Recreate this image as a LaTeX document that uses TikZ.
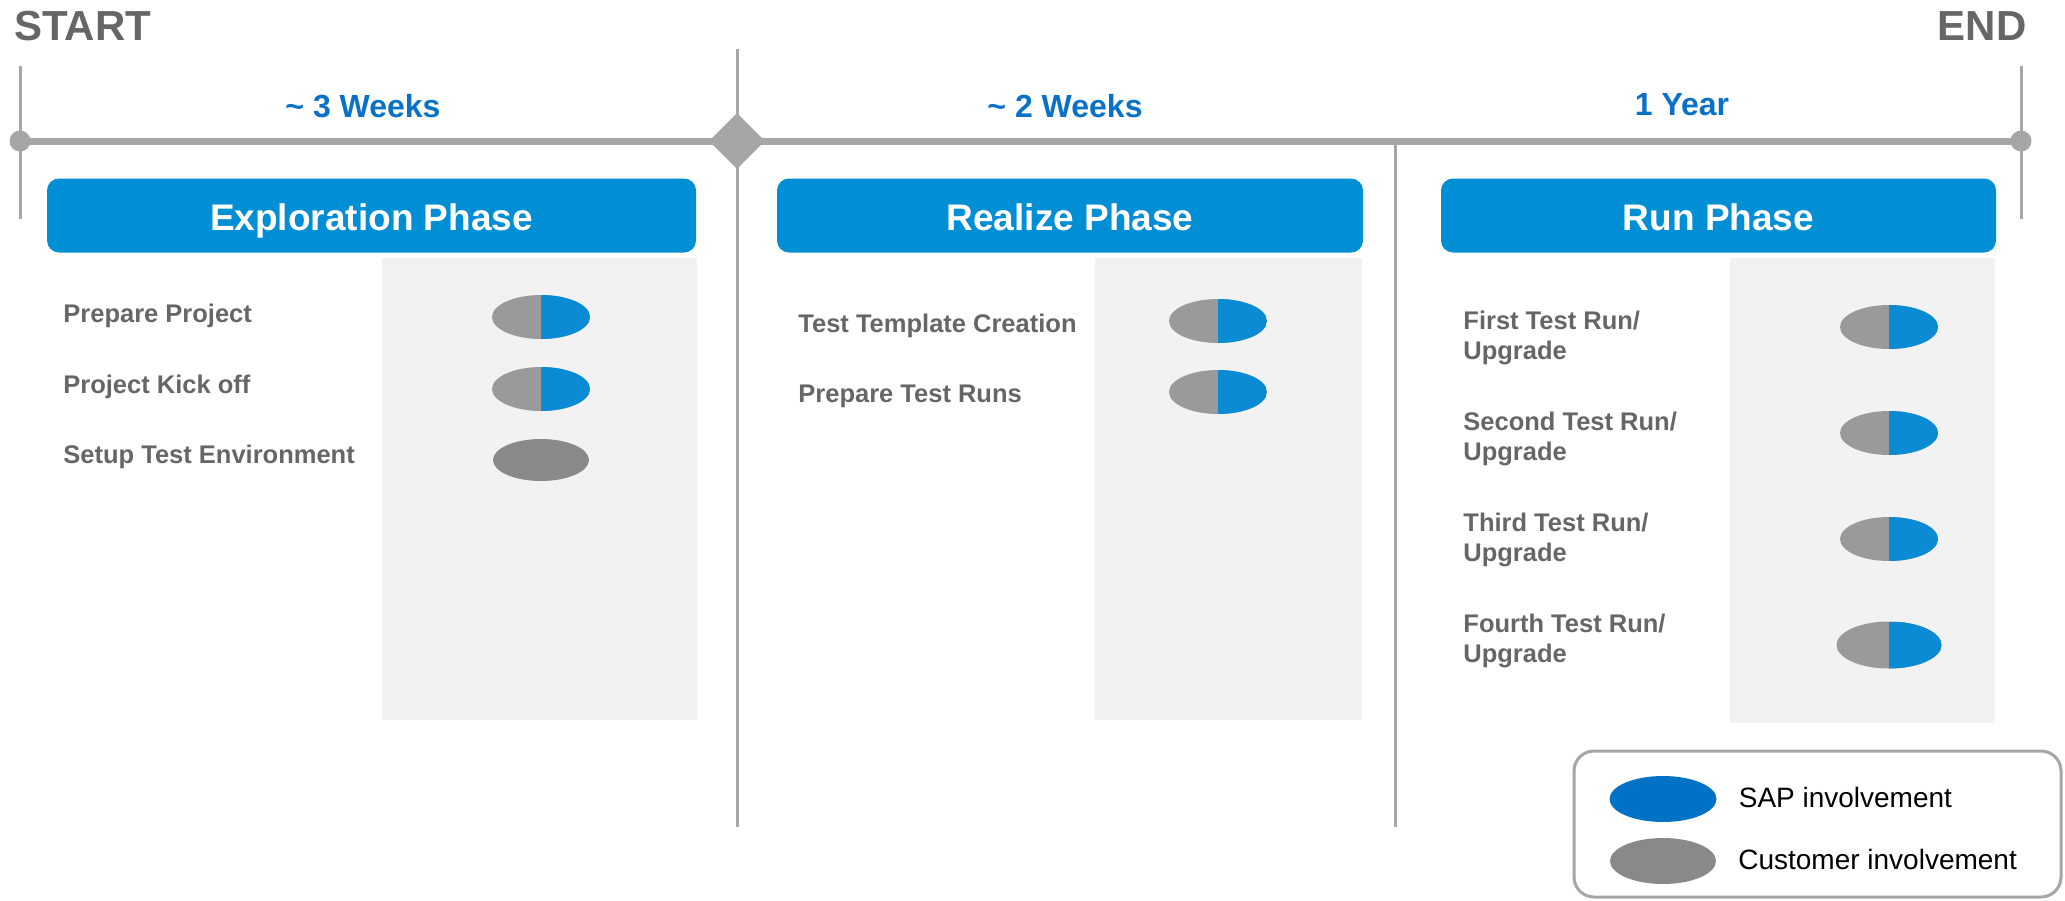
\documentclass[tikz,border=0pt]{standalone}
\usepackage{fontspec}
\setmainfont{Liberation Sans}
\usetikzlibrary{shapes.geometric}
\usetikzlibrary{positioning}
\definecolor{linegrey}{HTML}{A6A6A6}
\definecolor{textgrey}{HTML}{666666}
\definecolor{headblue}{HTML}{008FD4}
\definecolor{weekblue}{HTML}{0A72C6}
\definecolor{sapblue}{HTML}{0A8BD4}
\definecolor{legblue}{HTML}{0072C6}
\definecolor{custgrey}{HTML}{9A9A9A}
\definecolor{fullgrey}{HTML}{898989}
\definecolor{panelgrey}{HTML}{F2F2F2}

\begin{document}
\begin{tikzpicture}[x=0.5pt,y=-0.5pt,
	vline/.style={draw=linegrey,line width=1.5pt},
	bar/.style={draw=linegrey,line width=3.5pt},
	dot/.style={circle,fill=linegrey,minimum size=10.5pt,inner sep=0pt},
	gate/.style={diamond,fill=linegrey,minimum width=28pt,minimum height=28pt,inner sep=0pt},
	endlabel/.style={text=textgrey,font=\fontsize{21}{25}\selectfont\bfseries,inner sep=0pt},
	span/.style={text=weekblue,font=\fontsize{16}{19}\selectfont\bfseries,inner sep=0pt,anchor=base},
	phase/.style={fill=headblue,rounded corners=6pt,text=white,font=\fontsize{18.5}{22}\selectfont\bfseries,
		minimum height=37pt,inner sep=0pt,text height=14.5pt,text depth=0pt},
	panel/.style={fill=panelgrey},
	task/.style={text=textgrey,font=\fontsize{12.75}{14.8}\selectfont\bfseries,align=left,anchor=base west,inner sep=0pt},
	pill/.style={ellipse,minimum width=49pt,minimum height=22pt,inner sep=0pt},
	halfpill/.style={pill,fill=custgrey,path picture={\fill[sapblue] (path picture bounding box.north) rectangle (path picture bounding box.south east);}},
	legtext/.style={font=\fontsize{14}{17}\selectfont,inner sep=0pt,text height=10pt,text depth=2pt}]
	\useasboundingbox (0,0) rectangle (2065,900);
	% timeline
	\draw[vline] (20,66) -- (20,219);
	\draw[vline] (2021,66) -- (2021,219);
	\draw[vline] (737,49) -- (737,827);
	\draw[vline] (1395,141) -- (1395,827);
	\coordinate (t0) at (20,141);
	\coordinate (t1) at (2021,141);
	\draw[bar] (t0) -- (t1);
	\node[dot] (sdot) at (t0) {};
	\node[dot] (edot) at (t1) {};
	\node[gate] (ms) at (737,141) {};
	\node[endlabel,anchor=base west] (start) at (14,40) {START};
	\node[endlabel,anchor=base east] (end) at (2027,40) {END};
	\node[span] (w3) at (363,117) {\textasciitilde{} 3 Weeks};
	\node[span] (w2) at (1065,117) {\textasciitilde{} 2 Weeks};
	\node[span] (yr) at (1682,115) {1 Year};
	% phase headers
	\node[phase,minimum width=324.5pt] (explore) at (371.5,215.5) {Exploration Phase};
	\node[phase,minimum width=293pt] (realize) at (1070,215.5) {Realize Phase};
	\node[phase,minimum width=277.5pt] (run) at (1718.5,215.5) {Run Phase};
	% grey panels
	\fill[panel] (382,258) rectangle (697,720);
	\fill[panel] (1095,258) rectangle (1362,720);
	\fill[panel] (1730,258) rectangle (1995,723);
	% exploration
	\node[task] (prep) at (63,322) {Prepare Project};
	\node[task] (kick) at (63,393) {Project Kick off};
	\node[task] (setup) at (63,463) {Setup Test Environment};
	\node[halfpill] (prepE) at (541,317) {};
	\node[halfpill] (kickE) at (541,389) {};
	\node[pill,fill=fullgrey,minimum width=48pt,minimum height=21pt] (setupE) at (541,460) {};
	% realize
	\node[task] (tmpl) at (798,332) {Test Template Creation};
	\node[task] (runs) at (798,402) {Prepare Test Runs};
	\node[halfpill] (tmplE) at (1218,321) {};
	\node[halfpill] (runsE) at (1218,392) {};
	% run (base = last line)
	\node[task] (r1) at (1463,359) {First Test Run/\\Upgrade};
	\node[task] (r2) at (1463,460) {Second Test Run/\\Upgrade};
	\node[task] (r3) at (1463,561) {Third Test Run/\\Upgrade};
	\node[task] (r4) at (1463,662) {Fourth Test Run/\\Upgrade};
	\node[halfpill] (r1E) at (1889,327) {};
	\node[halfpill] (r2E) at (1889,433) {};
	\node[halfpill] (r3E) at (1889,539) {};
	\node[halfpill,minimum width=52.5pt,minimum height=23.5pt] (r4E) at (1889,645) {};
	% legend
	\draw[line width=1.5pt,draw=linegrey,rounded corners=10pt] (1574,751) rectangle (2061,897);
	\node[pill,fill=legblue,minimum width=53.5pt,minimum height=23pt] (sapkey) at (1663,799) {};
	\node[pill,fill=fullgrey,minimum width=53pt,minimum height=23pt] (custkey) at (1663,861) {};
	\node[legtext,right=10.75pt of sapkey] (saptext) {SAP involvement};
	\node[legtext,right=10.75pt of custkey] (custtext) {Customer involvement};
\end{tikzpicture}
\end{document}
